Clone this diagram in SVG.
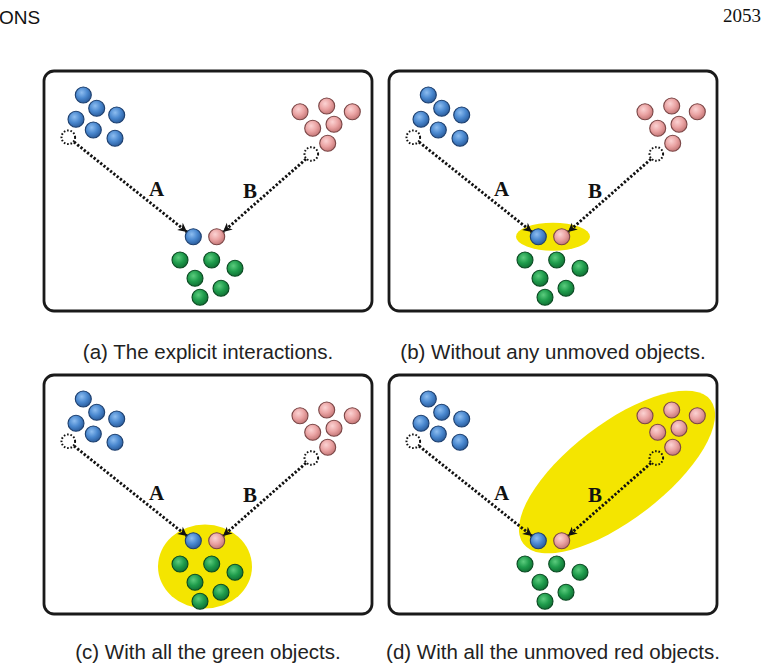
<svg xmlns="http://www.w3.org/2000/svg" width="766" height="663" viewBox="0 0 766 663">
<style>
.frame{fill:#fff;stroke:#1a1a1a;stroke-width:2.8}
.b{fill:url(#gb);stroke:#1d3f6e;stroke-width:1.1}
.r{fill:url(#gr);stroke:#7a4646;stroke-width:1.1}
.g{fill:url(#gg);stroke:#0b4a22;stroke-width:1.1}
.ghost{fill:none;stroke:#111;stroke-width:2;stroke-dasharray:1.6 1.8}
.link{fill:none;stroke:#111;stroke-width:2.9;stroke-dasharray:2.3 1.9;marker-end:url(#ah)}
.lab{font-family:"Liberation Serif",serif;font-weight:bold;font-size:21px;fill:#111;text-anchor:middle}
.cap{font-family:"Liberation Sans",sans-serif;font-size:20.5px;fill:#222;text-anchor:middle}
.hl{fill:#f4e500}
</style>
<defs>
<radialGradient id="gb" cx="0.4" cy="0.35" r="0.65"><stop offset="0" stop-color="#8dbdf0"/><stop offset="0.55" stop-color="#4a88cf"/><stop offset="1" stop-color="#2c5e9e"/></radialGradient>
<radialGradient id="gr" cx="0.4" cy="0.35" r="0.65"><stop offset="0" stop-color="#fbd3d3"/><stop offset="0.55" stop-color="#eaa3a3"/><stop offset="1" stop-color="#c57878"/></radialGradient>
<radialGradient id="gg" cx="0.4" cy="0.35" r="0.65"><stop offset="0" stop-color="#5ccc7e"/><stop offset="0.55" stop-color="#1f9c4c"/><stop offset="1" stop-color="#117235"/></radialGradient>
<marker id="ah" markerUnits="userSpaceOnUse" markerWidth="12" markerHeight="12" viewBox="0 0 12 12" refX="10" refY="6" orient="auto">
<path d="M1,1.5 L10,6 L1,10.5 L3.5,6 Z" fill="#111"/>
</marker>
</defs>

<g id="header">
<text x="-1" y="24" font-family="Liberation Sans, sans-serif" font-size="19" fill="#111">ONS</text>
<text x="723" y="22" font-family="Liberation Serif, serif" font-size="19" fill="#111">2053</text>
</g>

<!-- Panel (a) -->
<g id="panel-a" transform="translate(44,71)">
<rect class="frame" x="0" y="0" width="328" height="240" rx="10"/>
<g id="a-connectors">
<line class="link" x1="30" y1="71" x2="143" y2="161"/>
<line class="link" x1="262" y1="88" x2="179" y2="161"/>
</g>
<g id="a-blue-cluster"><circle class="b" cx="39.3" cy="24" r="8"/><circle class="b" cx="52.7" cy="37.3" r="8"/><circle class="b" cx="72.7" cy="44" r="8"/><circle class="b" cx="32" cy="48.3" r="8"/><circle class="b" cx="49.3" cy="59" r="8"/><circle class="b" cx="71" cy="67.3" r="8"/></g>
<g id="a-blue-origin"><circle class="ghost" cx="24.3" cy="66.3" r="6.8"/></g>
<g id="a-red-cluster"><circle class="r" cx="256" cy="40.7" r="8"/><circle class="r" cx="282.7" cy="35" r="8"/><circle class="r" cx="308.3" cy="40.7" r="8"/><circle class="r" cx="268.7" cy="57.3" r="8"/><circle class="r" cx="290" cy="53.3" r="8"/><circle class="r" cx="283.7" cy="72.3" r="8"/></g>
<g id="a-red-origin"><circle class="ghost" cx="267.3" cy="83" r="6.8"/></g>
<g id="a-blue-moved"><circle class="b" cx="149.3" cy="165.7" r="8"/></g>
<g id="a-red-moved"><circle class="r" cx="172.7" cy="165.7" r="8"/></g>
<g id="a-green-cluster"><circle class="g" cx="136" cy="189" r="8"/><circle class="g" cx="167.7" cy="189" r="8"/><circle class="g" cx="191" cy="197.3" r="8"/><circle class="g" cx="151" cy="207.3" r="8"/><circle class="g" cx="177" cy="217.3" r="8"/><circle class="g" cx="156" cy="226.3" r="8"/></g>
<text class="lab" x="112.7" y="125">A</text>
<text class="lab" x="206" y="127">B</text>
</g>
<text class="cap" x="208" y="359">(a) The explicit interactions.</text>

<!-- Panel (b) -->
<g id="panel-b" transform="translate(389,71)">
<rect class="frame" x="0" y="0" width="328" height="240" rx="10"/>
<ellipse class="hl" cx="164" cy="165.7" rx="37" ry="14"/>
<g id="b-connectors">
<line class="link" x1="30" y1="71" x2="143" y2="161"/>
<line class="link" x1="262" y1="88" x2="179" y2="161"/>
</g>
<g id="b-blue-cluster"><circle class="b" cx="39.3" cy="24" r="8"/><circle class="b" cx="52.7" cy="37.3" r="8"/><circle class="b" cx="72.7" cy="44" r="8"/><circle class="b" cx="32" cy="48.3" r="8"/><circle class="b" cx="49.3" cy="59" r="8"/><circle class="b" cx="71" cy="67.3" r="8"/></g>
<g id="b-blue-origin"><circle class="ghost" cx="24.3" cy="66.3" r="6.8"/></g>
<g id="b-red-cluster"><circle class="r" cx="256" cy="40.7" r="8"/><circle class="r" cx="282.7" cy="35" r="8"/><circle class="r" cx="308.3" cy="40.7" r="8"/><circle class="r" cx="268.7" cy="57.3" r="8"/><circle class="r" cx="290" cy="53.3" r="8"/><circle class="r" cx="283.7" cy="72.3" r="8"/></g>
<g id="b-red-origin"><circle class="ghost" cx="267.3" cy="83" r="6.8"/></g>
<g id="b-blue-moved"><circle class="b" cx="149.3" cy="165.7" r="8"/></g>
<g id="b-red-moved"><circle class="r" cx="172.7" cy="165.7" r="8"/></g>
<g id="b-green-cluster"><circle class="g" cx="136" cy="189" r="8"/><circle class="g" cx="167.7" cy="189" r="8"/><circle class="g" cx="191" cy="197.3" r="8"/><circle class="g" cx="151" cy="207.3" r="8"/><circle class="g" cx="177" cy="217.3" r="8"/><circle class="g" cx="156" cy="226.3" r="8"/></g>
<text class="lab" x="112.7" y="125">A</text>
<text class="lab" x="206" y="127">B</text>
</g>
<text class="cap" x="553" y="359">(b) Without any unmoved objects.</text>

<!-- Panel (c) -->
<g id="panel-c" transform="translate(44,375)">
<rect class="frame" x="0" y="0" width="328" height="239" rx="10"/>
<ellipse class="hl" cx="161" cy="191.5" rx="47" ry="42"/>
<g id="c-connectors">
<line class="link" x1="30" y1="71" x2="143" y2="161"/>
<line class="link" x1="262" y1="88" x2="179" y2="161"/>
</g>
<g id="c-blue-cluster"><circle class="b" cx="39.3" cy="24" r="8"/><circle class="b" cx="52.7" cy="37.3" r="8"/><circle class="b" cx="72.7" cy="44" r="8"/><circle class="b" cx="32" cy="48.3" r="8"/><circle class="b" cx="49.3" cy="59" r="8"/><circle class="b" cx="71" cy="67.3" r="8"/></g>
<g id="c-blue-origin"><circle class="ghost" cx="24.3" cy="66.3" r="6.8"/></g>
<g id="c-red-cluster"><circle class="r" cx="256" cy="40.7" r="8"/><circle class="r" cx="282.7" cy="35" r="8"/><circle class="r" cx="308.3" cy="40.7" r="8"/><circle class="r" cx="268.7" cy="57.3" r="8"/><circle class="r" cx="290" cy="53.3" r="8"/><circle class="r" cx="283.7" cy="72.3" r="8"/></g>
<g id="c-red-origin"><circle class="ghost" cx="267.3" cy="83" r="6.8"/></g>
<g id="c-blue-moved"><circle class="b" cx="149.3" cy="165.7" r="8"/></g>
<g id="c-red-moved"><circle class="r" cx="172.7" cy="165.7" r="8"/></g>
<g id="c-green-cluster"><circle class="g" cx="136" cy="189" r="8"/><circle class="g" cx="167.7" cy="189" r="8"/><circle class="g" cx="191" cy="197.3" r="8"/><circle class="g" cx="151" cy="207.3" r="8"/><circle class="g" cx="177" cy="217.3" r="8"/><circle class="g" cx="156" cy="226.3" r="8"/></g>
<text class="lab" x="112.7" y="125">A</text>
<text class="lab" x="206" y="127">B</text>
</g>
<text class="cap" x="208" y="659">(c) With all the green objects.</text>

<!-- Panel (d) -->
<g id="panel-d" transform="translate(389,375)">
<rect class="frame" x="0" y="0" width="328" height="239" rx="10"/>
<ellipse class="hl" cx="0" cy="0" rx="118" ry="48" transform="translate(228,97) rotate(-37.5)"/>
<g id="d-connectors">
<line class="link" x1="30" y1="71" x2="143" y2="161"/>
<line class="link" x1="262" y1="88" x2="179" y2="161"/>
</g>
<g id="d-blue-cluster"><circle class="b" cx="39.3" cy="24" r="8"/><circle class="b" cx="52.7" cy="37.3" r="8"/><circle class="b" cx="72.7" cy="44" r="8"/><circle class="b" cx="32" cy="48.3" r="8"/><circle class="b" cx="49.3" cy="59" r="8"/><circle class="b" cx="71" cy="67.3" r="8"/></g>
<g id="d-blue-origin"><circle class="ghost" cx="24.3" cy="66.3" r="6.8"/></g>
<g id="d-red-cluster"><circle class="r" cx="256" cy="40.7" r="8"/><circle class="r" cx="282.7" cy="35" r="8"/><circle class="r" cx="308.3" cy="40.7" r="8"/><circle class="r" cx="268.7" cy="57.3" r="8"/><circle class="r" cx="290" cy="53.3" r="8"/><circle class="r" cx="283.7" cy="72.3" r="8"/></g>
<g id="d-red-origin"><circle class="ghost" cx="267.3" cy="83" r="6.8"/></g>
<g id="d-blue-moved"><circle class="b" cx="149.3" cy="165.7" r="8"/></g>
<g id="d-red-moved"><circle class="r" cx="172.7" cy="165.7" r="8"/></g>
<g id="d-green-cluster"><circle class="g" cx="136" cy="189" r="8"/><circle class="g" cx="167.7" cy="189" r="8"/><circle class="g" cx="191" cy="197.3" r="8"/><circle class="g" cx="151" cy="207.3" r="8"/><circle class="g" cx="177" cy="217.3" r="8"/><circle class="g" cx="156" cy="226.3" r="8"/></g>
<text class="lab" x="112.7" y="125">A</text>
<text class="lab" x="206" y="127">B</text>
</g>
<text class="cap" x="553" y="659">(d) With all the unmoved red objects.</text>
</svg>
